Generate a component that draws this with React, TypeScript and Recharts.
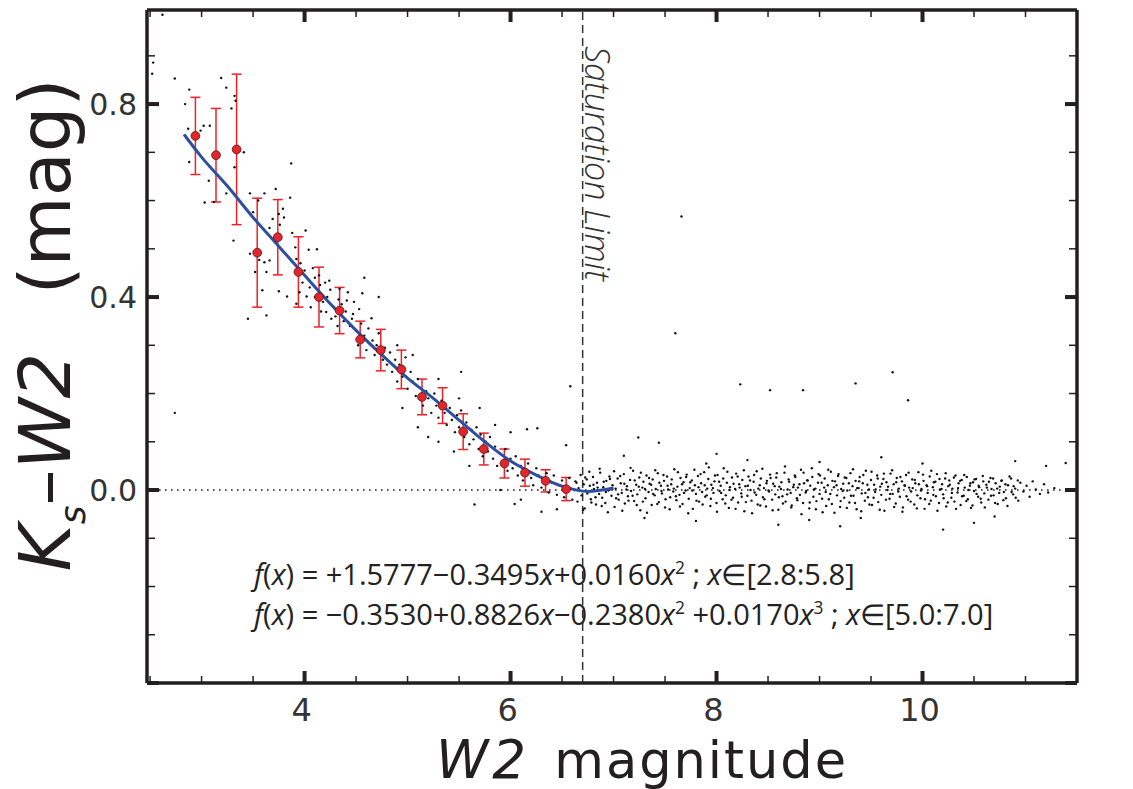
import React from 'react';
import { ScatterChart, Scatter, XAxis, YAxis, ReferenceLine, ErrorBar } from 'recharts';

const AXIS = '#231f20';
const X_TICKS = [2.5, 3, 3.5, 4, 4.5, 5, 5.5, 6, 6.5, 7, 7.5, 8, 8.5, 9, 9.5, 10, 10.5, 11, 11.5];
const X_MAJOR = [4, 6, 8, 10];
const Y_TICKS = [-0.4, -0.3, -0.2, -0.1, 0, 0.1, 0.2, 0.3, 0.4, 0.5, 0.6, 0.7, 0.8, 0.9];
const Y_MAJOR = [-0.4, 0, 0.4, 0.8];
const Y_LABELS = ['0.0', '0.4', '0.8'];
const SATURATION = 6.7;

// binned means (red) with errors
const binX = [2.94, 3.14, 3.34, 3.54, 3.74, 3.94, 4.14, 4.34, 4.54, 4.74, 4.94, 5.14, 5.34, 5.54, 5.74, 5.94, 6.14, 6.34, 6.54];
const binY = [0.734, 0.694, 0.706, 0.492, 0.524, 0.452, 0.4, 0.372, 0.312, 0.29, 0.25, 0.193, 0.175, 0.121, 0.085, 0.055, 0.036, 0.019, 0.002];
const binErr = [0.08, 0.097, 0.156, 0.113, 0.078, 0.073, 0.062, 0.048, 0.038, 0.043, 0.04, 0.037, 0.037, 0.037, 0.033, 0.03, 0.028, 0.023, 0.024];

// fitted curve (blue)
const fitX = [2.83, 3.0, 3.25, 3.5, 3.75, 4.0, 4.25, 4.5, 4.75, 5.0, 5.25, 5.5, 5.75, 6.0, 6.25, 6.5, 6.75, 7.0];
const fitY = [0.737, 0.69, 0.63, 0.565, 0.505, 0.445, 0.386, 0.331, 0.28, 0.232, 0.19, 0.145, 0.1, 0.06, 0.031, 0.008, -0.003, 0.004];

// individual stars, bright end (along the relation)
const brightStars = [
  2.62, 0.985, 2.53, 0.886, 2.52, 0.863, 2.74, 0.853, 2.88, 0.83, 2.84, 0.8, 2.87, 0.749, 2.88, 0.68,
  3.19, 0.854, 3.24, 0.834, 3.32, 0.817, 3.33, 0.807, 3.29, 0.791, 3.08, 0.755, 3.02, 0.755, 2.99, 0.745,
  3.07, 0.641, 3.03, 0.596, 3.12, 0.597, 3.24, 0.615, 3.32, 0.669, 3.41, 0.7, 3.31, 0.517, 3.47, 0.615,
  3.61, 0.615, 3.55, 0.6, 3.5, 0.576, 3.47, 0.49, 3.56, 0.477, 3.61, 0.472, 3.66, 0.476, 3.52, 0.452,
  3.63, 0.452, 3.59, 0.414, 3.63, 0.362, 3.45, 0.355, 3.72, 0.624, 3.66, 0.543, 3.69, 0.562, 3.75, 0.572,
  3.79, 0.583, 3.8, 0.565, 3.76, 0.55, 3.87, 0.677, 3.86, 0.606, 3.88, 0.533, 4.01, 0.538, 3.91, 0.503,
  3.92, 0.479, 4.04, 0.498, 4.12, 0.499, 3.75, 0.412, 3.83, 0.401, 3.95, 0.41, 4.02, 0.401, 3.92, 0.386,
  4.06, 0.379, 4.24, 0.434, 4.25, 0.415, 4.34, 0.417, 4.41, 0.393, 4.56, 0.408, 4.21, 0.369, 4.47, 0.365,
  4.53, 0.375, 4.65, 0.356, 2.74, 0.16, 3.96, 0.47, 4.0, 0.455, 4.08, 0.46, 4.14, 0.445, 4.2, 0.43,
  3.98, 0.43, 4.05, 0.42, 4.1, 0.4, 4.16, 0.37, 4.26, 0.355, 4.32, 0.34, 4.36, 0.385, 4.42, 0.41, 4.48, 0.39,
  4.1, 0.44, 4.15, 0.425, 4.18, 0.39, 4.22, 0.4, 4.28, 0.38, 4.3, 0.36, 4.33, 0.395, 4.38, 0.35, 4.4, 0.37,
  4.44, 0.34, 4.46, 0.355, 4.5, 0.33, 4.52, 0.3, 4.55, 0.345, 4.58, 0.32, 4.6, 0.29, 4.62, 0.335, 4.66, 0.31,
  4.68, 0.28, 4.7, 0.3, 4.72, 0.325, 4.76, 0.27, 4.78, 0.295, 4.8, 0.26, 4.83, 0.285, 4.85, 0.245, 4.88, 0.27,
  4.9, 0.225, 4.92, 0.26, 4.95, 0.235, 4.98, 0.275, 5.0, 0.21, 5.03, 0.245, 5.05, 0.225, 5.08, 0.195,
  5.1, 0.23, 5.13, 0.21, 5.15, 0.175, 5.18, 0.205, 5.2, 0.19, 5.23, 0.16, 5.26, 0.2, 5.28, 0.175, 5.3, 0.15,
  5.33, 0.185, 5.36, 0.16, 5.38, 0.135, 5.41, 0.17, 5.43, 0.145, 5.46, 0.12, 5.48, 0.155, 5.5, 0.13,
  5.52, 0.165, 5.55, 0.11, 5.57, 0.14, 5.6, 0.095, 5.62, 0.125, 5.64, 0.105, 5.67, 0.13, 5.69, 0.085,
  5.71, 0.115, 5.73, 0.07, 5.76, 0.1, 5.78, 0.08, 5.8, 0.11, 5.83, 0.065, 5.85, 0.09, 5.87, 0.05, 5.9, 0.075,
  5.92, 0.06, 5.95, 0.085, 5.97, 0.04, 6.0, 0.065, 6.02, 0.045, 6.05, 0.07, 6.07, 0.03, 6.1, 0.05, 6.12, 0.02,
  6.15, 0.04, 6.17, 0.055, 6.2, 0.025, 6.22, 0.01, 6.25, 0.045, 6.27, 0.03, 6.3, 0.005, 6.32, 0.02,
  6.35, 0.035, 6.37, -0.005, 6.4, 0.015, 6.42, 0.03, 6.45, -0.01, 6.47, 0.01, 6.5, 0.02, 6.52, -0.015,
  6.55, 0.005, 6.57, 0.025, 6.6, -0.02, 6.62, 0.0, 6.64, 0.015, 4.58, 0.44, 4.72, 0.4, 4.9, 0.3, 5.05, 0.28,
  5.3, 0.23, 5.5, 0.19, 5.7, 0.17, 5.85, 0.135, 6.0, 0.12, 5.52, 0.245, 4.95, 0.17, 5.2, 0.11, 5.45, 0.08,
  5.65, -0.03, 6.04, -0.029, 6.54, 0.093, 6.58, 0.215, 6.16, 0.126, 6.26, 0.128, 5.1, 0.13, 5.3, 0.1,
  5.6, 0.05, 5.9, 0.0, 6.1, -0.02, 6.3, -0.045, 6.45, -0.04,
];

// individual stars, faint end (unsaturated, near zero colour)
const faintStarsA = [
  6.63, 0.018, 6.65, -0.024, 6.66, 0.004, 6.68, 0.031, 6.69, -0.011, 6.71, 0.012, 6.72, -0.038, 6.74, 0.022,
  6.75, -0.003, 6.77, 0.009, 6.78, -0.019, 6.8, 0.027, 6.81, 0.002, 6.83, -0.03, 6.84, 0.015, 6.86, -0.008,
  6.87, 0.036, 6.89, -0.016, 6.9, 0.006, 6.92, -0.027, 6.93, 0.019, 6.95, -0.001, 6.96, 0.028, 6.98, -0.012,
  6.99, 0.01, 7.01, -0.035, 7.02, 0.003, 7.04, 0.024, 7.05, -0.02, 7.07, 0.014, 7.08, -0.006, 7.1, 0.033,
  7.11, -0.028, 7.13, 0.008, 7.14, -0.013, 7.16, 0.021, 7.17, -0.002, 7.19, 0.04, 7.2, -0.023, 7.22, 0.011,
  7.23, -0.009, 7.25, 0.026, 7.26, -0.042, 7.28, 0.005, 7.29, 0.017, 7.31, -0.017, 7.32, 0.03, 7.34, -0.004,
  7.35, 0.013, 7.37, -0.031, 7.38, 0.022, 7.4, -0.011, 7.41, 0.002, 7.43, 0.035, 7.44, -0.025, 7.46, 0.009,
  7.47, -0.007, 7.49, 0.019, 7.5, -0.036, 7.52, 0.028, 7.53, 0.001, 7.55, -0.015, 7.56, 0.012, 7.58, -0.003,
  7.59, 0.043, 7.61, -0.021, 7.62, 0.007, 7.64, -0.01, 7.65, 0.025, 7.67, -0.029, 7.68, 0.016, 7.7, -0.001,
  7.71, 0.032, 7.73, -0.018, 7.74, 0.004, 7.76, 0.02, 7.77, -0.039, 7.79, 0.01, 7.8, -0.008, 7.82, 0.029,
  7.83, -0.024, 7.85, 0.014, 7.86, -0.004, 7.88, 0.037, 7.89, -0.014, 7.91, 0.003, 7.92, 0.023, 7.94, -0.033,
  7.95, 0.011, 7.97, -0.006, 7.98, 0.018, 8.0, -0.027, 8.01, 0.031, 8.03, -0.002, 8.04, 0.009, 8.06, -0.019,
  8.07, 0.045, 8.09, -0.011, 8.1, 0.015, 8.12, -0.037, 8.13, 0.006, 8.15, 0.026, 8.16, -0.016, 8.18, 0.002,
  8.19, 0.034, 8.21, -0.026, 8.22, 0.012, 8.24, -0.007, 8.25, 0.021, 8.27, -0.044, 8.28, 0.008, 8.3, -0.012,
  8.31, 0.028, 8.33, 0.0, 8.34, -0.022, 8.36, 0.017, 8.37, -0.005, 8.39, 0.039, 8.4, -0.03, 8.42, 0.01,
  8.43, 0.024, 8.45, -0.015, 8.46, 0.004, 8.48, -0.034, 8.49, 0.019, 8.51, -0.003, 8.52, 0.032, 8.54, -0.02,
  8.55, 0.013, 8.57, -0.009, 8.58, 0.026, 8.6, -0.041, 8.61, 0.007, 8.63, 0.016, 8.64, -0.013, 8.66, 0.036,
  8.67, -0.024, 8.69, 0.001, 8.7, 0.022, 8.72, -0.006, 8.73, -0.032, 8.75, 0.011, 8.76, 0.03, 8.78, -0.017,
  8.79, 0.005, 8.81, -0.01, 8.82, 0.042, 8.84, -0.027, 8.85, 0.014, 8.87, -0.002, 8.88, 0.02, 8.9, -0.038,
  8.91, 0.009, 8.93, 0.027, 8.94, -0.014, 8.96, 0.003, 8.97, -0.023, 8.99, 0.033, 9.0, -0.008, 9.02, 0.015,
  9.03, -0.046, 9.05, 0.024, 9.06, -0.004, 9.08, 0.01, 9.09, -0.019, 9.11, 0.038, 9.12, -0.029, 9.14, 0.006,
  9.15, 0.018, 9.17, -0.011, 9.18, 0.029, 9.2, -0.035, 9.21, 0.002, 9.23, 0.013, 9.24, -0.016, 9.26, 0.025,
  9.27, -0.001, 9.29, -0.026, 9.3, 0.035, 9.32, 0.008, 9.33, -0.012, 9.35, 0.019, 9.36, -0.04, 9.38, 0.004,
  9.39, 0.027, 9.41, -0.007, 9.42, 0.014, 9.44, -0.022, 9.45, 0.04, 9.47, -0.015, 9.48, 0.001, 9.5, 0.021,
  9.51, -0.031, 9.53, 0.011, 9.54, -0.004, 9.56, 0.03, 9.57, -0.025, 9.59, 0.007, 9.6, -0.01, 9.62, 0.023,
  9.63, -0.043, 9.65, 0.016, 9.66, 0.0, 9.68, -0.018, 9.69, 0.034, 9.71, -0.008, 9.72, 0.012, 9.74, -0.028,
  9.75, 0.025, 9.77, 0.003, 9.78, -0.014, 9.8, 0.018, 9.81, -0.036, 9.83, 0.009, 9.84, 0.031, 9.86, -0.02,
  9.87, 0.005, 9.89, -0.003, 9.9, 0.022, 9.92, -0.03, 9.93, 0.014, 9.95, -0.011, 9.96, 0.037, 9.98, -0.017,
  9.99, 0.002, 10.01, 0.019, 10.02, -0.039, 10.04, 0.01, 10.05, -0.006, 10.07, 0.028, 10.08, -0.022,
  10.1, 0.006, 10.11, 0.016, 10.13, -0.013, 10.14, 0.033, 10.16, -0.027, 10.17, 0.001, 10.19, 0.012,
  10.2, -0.009, 10.22, 0.024, 10.23, -0.034, 10.25, 0.008, 10.26, 0.02, 10.28, -0.016, 10.29, 0.003,
  10.31, -0.024, 10.32, 0.03, 10.34, -0.005, 10.35, 0.014, 10.37, -0.031, 10.38, 0.021, 10.4, -0.012,
  10.41, 0.005, 10.43, 0.027, 10.44, -0.019, 10.46, 0.009, 10.47, -0.037, 10.49, 0.016, 10.5, -0.002,
  10.52, 0.023, 10.54, -0.014, 10.55, 0.006, 10.57, -0.026, 10.59, 0.018, 10.6, -0.007, 10.62, 0.011,
  10.64, -0.02, 10.66, 0.025, 10.67, 0.002, 10.69, -0.011, 10.71, 0.014, 10.73, -0.029, 10.75, 0.007,
  10.77, 0.02, 10.79, -0.004, 10.81, -0.017, 10.83, 0.01, 10.86, 0.024, 10.88, -0.009, 10.9, 0.003,
  10.93, -0.022, 10.95, 0.015, 10.98, -0.003, 11.01, 0.009, 11.04, -0.014, 11.07, 0.018, 11.1, 0.001,
  11.14, -0.008, 11.18, 0.012, 11.22, -0.005, 11.28, 0.004, 11.39, 0.056,
];

const faintStarsB = [
  6.705, -0.041, 6.725, 0.026, 6.745, -0.007, 6.765, 0.038, 6.785, -0.026, 6.805, 0.011, 6.825, -0.015,
  6.845, 0.005, 6.865, 0.044, 6.885, -0.033, 6.905, 0.017, 6.925, -0.004, 6.945, -0.046, 6.965, 0.023,
  6.985, 0.001, 7.005, 0.039, 7.025, -0.017, 7.045, -0.009, 7.065, 0.029, 7.085, -0.043, 7.105, 0.013,
  7.125, 0.001, 7.145, -0.022, 7.165, 0.046, 7.185, -0.012, 7.205, 0.02, 7.225, -0.031, 7.245, 0.007,
  7.265, 0.036, 7.285, -0.024, 7.305, 0.002, 7.325, -0.047, 7.345, 0.025, 7.365, 0.011, 7.385, -0.008,
  7.405, 0.041, 7.425, -0.029, 7.445, 0.015, 7.465, -0.002, 7.485, 0.031, 7.505, -0.019, 7.525, 0.009,
  7.545, -0.04, 7.565, 0.022, 7.585, 0.003, 7.605, -0.013, 7.625, 0.037, 7.645, -0.034, 7.665, 0.012,
  7.685, -0.006, 7.705, 0.027, 7.725, -0.048, 7.745, 0.016, 7.765, -0.001, 7.785, 0.042, 7.805, -0.022,
  7.825, 0.006, 7.845, 0.033, 7.865, -0.03, 7.885, 0.01, 7.905, -0.011, 7.925, 0.047, 7.945, -0.018,
  7.965, 0.004, 7.985, 0.03, 8.005, -0.045, 8.025, 0.017, 8.045, -0.006, 8.065, 0.024, 8.085, -0.028,
  8.105, 0.038, 8.125, 0.0, 8.145, -0.02, 8.165, 0.013, 8.185, -0.039, 8.205, 0.028, 8.225, 0.005,
  8.245, -0.014, 8.265, 0.041, 8.285, -0.025, 8.305, 0.009, 8.325, 0.02, 8.345, -0.048, 8.365, 0.031,
  8.385, -0.01, 8.405, 0.003, 8.425, -0.032, 8.445, 0.044, 8.465, -0.019, 8.485, 0.014, 8.505, -0.001,
  8.525, 0.025, 8.545, -0.042, 8.565, 0.008, 8.585, 0.035, 8.605, -0.015, 8.625, 0.002, 8.645, -0.028,
  8.665, 0.049, 8.685, -0.009, 8.705, 0.017, 8.725, -0.036, 8.745, 0.006, 8.765, 0.027, 8.785, -0.021,
  8.805, 0.012, 8.825, -0.05, 8.845, 0.036, 8.865, -0.005, 8.885, 0.02, 8.905, -0.026, 8.925, 0.045,
  8.945, 0.001, 8.965, -0.04, 8.985, 0.015, 9.005, 0.03, 9.025, -0.018, 9.045, 0.005, 9.065, -0.033,
  9.085, 0.042, 9.105, -0.008, 9.125, 0.019, 9.145, -0.047, 9.165, 0.01, 9.185, 0.033, 9.205, -0.023,
  9.225, -0.002, 9.245, 0.026, 9.265, -0.037, 9.285, 0.014, 9.305, -0.012, 9.325, 0.043, 9.345, -0.027,
  9.365, 0.004, 9.385, 0.018, 9.405, -0.044, 9.425, 0.031, 9.445, -0.006, 9.465, 0.011, 9.485, -0.03,
  9.505, 0.038, 9.525, -0.016, 9.545, 0.001, 9.565, 0.024, 9.585, -0.041, 9.605, 0.013, 9.625, 0.034,
  9.645, -0.02, 9.665, 0.007, 9.685, -0.008, 9.705, 0.041, 9.725, -0.035, 9.745, 0.016, 9.765, -0.003,
  9.785, 0.027, 9.805, -0.045, 9.825, 0.01, 9.845, -0.013, 9.865, 0.036, 9.885, -0.024, 9.905, 0.004,
  9.925, 0.021, 9.945, -0.038, 9.965, 0.012, 9.985, -0.001, 10.005, 0.032, 10.025, -0.019, 10.045, 0.008,
  10.065, -0.029, 10.085, 0.04, 10.105, -0.01, 10.125, 0.017, 10.145, -0.043, 10.165, 0.023, 10.185, 0.002,
  10.205, -0.017, 10.225, 0.035, 10.245, -0.026, 10.265, 0.011, 10.285, -0.006, 10.305, 0.026,
  10.325, -0.039, 10.345, 0.004, 10.365, 0.019, 10.385, -0.013, 10.405, 0.031, 10.425, -0.023,
  10.445, 0.0, 10.465, 0.014, 10.485, -0.032, 10.505, 0.022, 10.525, -0.008, 10.545, 0.009, 10.565, -0.018,
  10.585, 0.029, 10.605, -0.036, 10.625, 0.005, 10.645, 0.017, 10.665, -0.012, 10.685, 0.024,
  10.705, -0.027, 10.725, 0.003, 10.745, -0.006, 10.765, 0.019, 10.785, -0.021, 10.805, 0.012,
  10.825, -0.033, 10.845, 0.028, 10.865, -0.004, 10.885, 0.008, 10.905, -0.016, 10.925, 0.02,
];

// stray stars in the faint range
const strayStars = [
  7.66, 0.567, 7.6, 0.325, 8.23, 0.219, 8.52, 0.207, 8.84, 0.207, 9.35, 0.221, 9.71, 0.244, 9.86, 0.186,
  7.24, 0.109, 7.44, 0.098, 7.1, 0.071, 8.0, 0.075, 9.2, -0.075, 10.5, -0.068, 8.6, -0.072, 7.8, -0.064,
  10.9, 0.06, 9.6, 0.068, 11.2, 0.05, 8.3, 0.062, 10.2, -0.082, 7.3, -0.058, 9.0, 0.058, 8.9, -0.062,
  9.4, -0.058, 10.0, 0.055, 7.9, 0.055, 10.7, -0.055,
];

const toPoints = (flat: number[]) => {
  const out: { x: number; y: number }[] = [];
  for (let i = 0; i < flat.length; i += 2) out.push({ x: flat[i], y: flat[i + 1] });
  return out;
};

const starData = [...toPoints(brightStars), ...toPoints(faintStarsA), ...toPoints(faintStarsB), ...toPoints(strayStars)];
const binData = binX.map((x, i) => ({ x, y: binY[i], err: binErr[i] }));
const fitData = fitX.map((x, i) => ({ x, y: fitY[i] }));

const isIn = (arr: number[], v: number) => arr.some((m) => Math.abs(m - v) < 1e-6);

const FONT = '"DejaVu Sans", sans-serif';

const XTickBottom = (p: any) => {
  const { x, y, payload } = p;
  const major = isIn(X_MAJOR, payload.value);
  return (
    <g>
      <line x1={x} x2={x} y1={y} y2={y - (major ? 12 : 7)} stroke={AXIS} strokeWidth={major ? 4 : 1.5} />
      {major && (
        <text x={x - 3} y={y + 38} textAnchor="middle" fontFamily={FONT} fontSize={32} fill="#333">
          {payload.value}
        </text>
      )}
    </g>
  );
};
const XTickTop = (p: any) => {
  const { x, y, payload } = p;
  const major = isIn(X_MAJOR, payload.value);
  return <line x1={x} x2={x} y1={y} y2={y + (major ? 12 : 7)} stroke={AXIS} strokeWidth={major ? 4 : 1.5} />;
};
const YTickLeft = (p: any) => {
  const { x, y, payload } = p;
  const v = payload.value;
  const major = isIn(Y_MAJOR, v);
  const label = Y_LABELS.find((l) => Math.abs(parseFloat(l) - v) < 1e-6);
  return (
    <g>
      <line x1={x} x2={x + (major ? 12 : 8)} y1={y} y2={y} stroke={AXIS} strokeWidth={major ? 4 : 1.5} />
      {label && (
        <text x={x - 10} y={y + 11} textAnchor="end" fontFamily={FONT} fontSize={30} fill="#333">
          {label}
        </text>
      )}
    </g>
  );
};
const YTickRight = (p: any) => {
  const { x, y, payload } = p;
  const major = isIn(Y_MAJOR, payload.value);
  return <line x1={x} x2={x - (major ? 12 : 8)} y1={y} y2={y} stroke={AXIS} strokeWidth={major ? 4 : 1.5} />;
};

const Dot = (p: any) => <circle cx={p.cx} cy={p.cy} r={1.2} fill="#111" />;
const BinDot = (p: any) => <circle cx={p.cx} cy={p.cy} r={4.4} fill="#e3262b" stroke="#5a1414" strokeWidth={0.8} />;
const NoDot = () => <g />;

const supStyle = { fontSize: '0.6em', lineHeight: 0 } as const;

export default function App() {
  const axisLine = { stroke: AXIS, strokeWidth: 3.5 };
  return (
    <div style={{ position: 'absolute', left: 0, top: 0, width: 1133, height: 789, background: '#fff', overflow: 'hidden' }}>
      <ScatterChart width={1133} height={789} margin={{ top: 9, right: 55, bottom: 105, left: 146 }}>
        <XAxis
          xAxisId="b" type="number" dataKey="x" domain={[2.47, 11.5]} allowDataOverflow ticks={X_TICKS}
          interval={0} tickSize={0} tickMargin={0} height={1} axisLine={axisLine} tickLine={false} tick={<XTickBottom />}
        />
        <XAxis
          xAxisId="t" orientation="top" type="number" dataKey="x" domain={[2.47, 11.5]} allowDataOverflow ticks={X_TICKS}
          interval={0} tickSize={0} tickMargin={0} height={1} axisLine={axisLine} tickLine={false} tick={<XTickTop />}
        />
        <YAxis
          yAxisId="l" type="number" dataKey="y" domain={[-0.4, 0.995]} allowDataOverflow ticks={Y_TICKS}
          interval={0} tickSize={0} tickMargin={0} width={1} axisLine={axisLine} tickLine={false} tick={<YTickLeft />}
        />
        <YAxis
          yAxisId="r" orientation="right" type="number" dataKey="y" domain={[-0.4, 0.995]} allowDataOverflow ticks={Y_TICKS}
          interval={0} tickSize={0} tickMargin={0} width={1} axisLine={axisLine} tickLine={false} tick={<YTickRight />}
        />
        <Scatter xAxisId="t" yAxisId="r" data={[]} isAnimationActive={false} shape={<NoDot />} />
        <ReferenceLine xAxisId="b" yAxisId="l" y={0} stroke="#222" strokeWidth={1.6} strokeDasharray="1.6 4.4" />
        <ReferenceLine xAxisId="b" yAxisId="l" x={SATURATION} stroke="#333" strokeWidth={1.5} strokeDasharray="8 5" />
        <Scatter xAxisId="b" yAxisId="l" data={starData} shape={<Dot />} isAnimationActive={false} />
        <Scatter
          xAxisId="b" yAxisId="l" data={fitData} shape={<NoDot />} line={{ stroke: '#2d4fa2', strokeWidth: 3 }}
          lineJointType="monotoneX" isAnimationActive={false}
        />
        <Scatter xAxisId="b" yAxisId="l" data={binData} shape={<BinDot />} isAnimationActive={false}>
          <ErrorBar dataKey="err" direction="y" width={5} stroke="#ec2229" strokeWidth={1.5} />
        </Scatter>
      </ScatterChart>

      {/* y axis title */}
      <div
        style={{
          position: 'absolute', left: 50, top: 325, transform: 'translate(-50%, -50%) rotate(-90deg)',
          whiteSpace: 'nowrap', fontFamily: FONT, fontSize: 72, color: AXIS, lineHeight: 1, padding: '0 8px',
        }}
      >
        <i>K</i><sub style={{ fontSize: '0.5em', fontStyle: 'italic' }}>s</sub>–<i style={{ paddingRight: 6 }}>W2</i>
        <span style={{ marginLeft: 52, fontSize: 72 }}>(mag)</span>
      </div>

      {/* x axis title */}
      <div
        style={{
          position: 'absolute', left: 642, top: 729, transform: 'translateX(-50%)',
          whiteSpace: 'nowrap', fontFamily: FONT, fontSize: 51, color: AXIS, lineHeight: 'normal', padding: '0 8px',
        }}
      >
        <i style={{ fontSize: 53, letterSpacing: 4, paddingRight: 6 }}>W2</i>
        <span style={{ letterSpacing: 2 }}> magnitude</span>
      </div>

      {/* saturation label */}
      <div
        style={{
          position: 'absolute', left: 615, top: 46, transform: 'rotate(90deg)', transformOrigin: '0 0',
          whiteSpace: 'nowrap', fontFamily: '"Open Sans", sans-serif', fontStyle: 'italic', fontWeight: 300,
          fontSize: 34, color: '#333', lineHeight: 1,
        }}
      >
        Saturation Limit
      </div>

      {/* fit equations */}
      <div
        style={{
          position: 'absolute', left: 254, top: 554, whiteSpace: 'nowrap', fontFamily: '"Open Sans", sans-serif',
          fontSize: 29, color: '#222', lineHeight: '40px',
        }}
      >
        <div>
          <i>f</i>(<i>x</i>) = +1.5777−0.3495<i>x</i>+0.0160<i>x</i><sup style={supStyle}>2</sup> ; <i>x</i>∈[2.8:5.8]
        </div>
        <div>
          <i>f</i>(<i>x</i>) = −0.3530+0.8826<i>x</i>−0.2380<i>x</i><sup style={supStyle}>2</sup> +0.0170
          <i>x</i><sup style={supStyle}>3</sup> ; <i>x</i>∈[5.0:7.0]
        </div>
      </div>
    </div>
  );
}
